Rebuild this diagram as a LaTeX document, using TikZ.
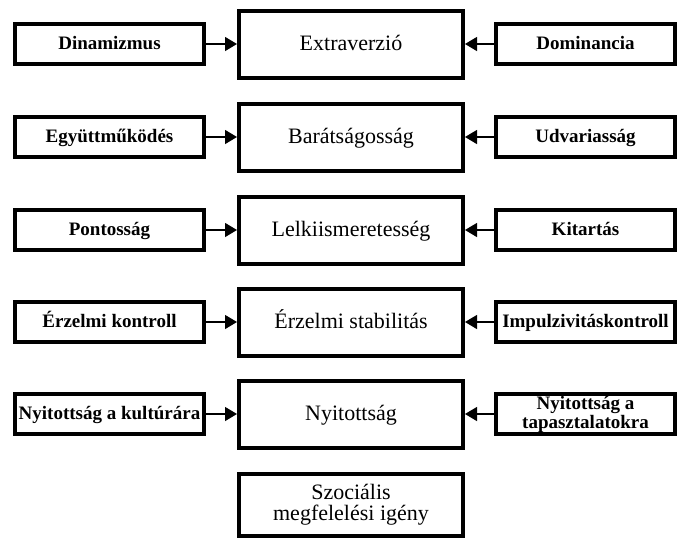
\documentclass[tikz,border=0pt]{standalone}
\usepackage{fontspec}
\setmainfont{Liberation Serif}
\usetikzlibrary{arrows.meta}
\tikzset{
	trait/.style = {draw, line width=4pt, minimum width=224pt, minimum height=67pt,
		inner sep=1pt, text height=17pt, text depth=5pt,
		font=\fontsize{22}{21}\selectfont},
	facet/.style = {draw, line width=3.6pt, minimum height=40pt,
		inner sep=1pt, text height=16pt, text depth=4.5pt,
		font=\fontsize{19}{19}\selectfont\bfseries},
	facetl/.style = {facet, minimum width=189pt},
	facetr/.style = {facet, minimum width=179pt},
	twoline/.style = {align=center, text height=, text depth=},
	link/.style = {line width=1.2pt, -{Triangle[length=12pt, width=14pt]}}
}

\begin{document}
\begin{tikzpicture}[x=1pt, y=-1pt]
	\useasboundingbox (0,0) rectangle (677,539);
	\foreach \y/\i/\lt/\ct in {44/1/Dinamizmus/Extraverzió,
		137/2/Együttműködés/Barátságosság,
		230/3/Pontosság/Lelkiismeretesség,
		322/4/Érzelmi kontroll/Érzelmi stabilitás,
		414/5/Nyitottság a kultúrára/Nyitottság}{
		\node[trait] (tr\i) at (351,\y) {\ct};
		\node[facetl] (fl\i) at (109.5,\y) {\lt};
		\draw[link] (fl\i) -- (tr\i);
		};
	\foreach \y/\i/\rt in {44/1/Dominancia, 137/2/Udvariasság, 230/3/Kitartás,
		322/4/Impulzivitáskontroll}{
		\node[facetr] (fr\i) at (585.5,\y) {\rt};
		\draw[link] (fr\i) -- (tr\i);
		};
	\node[facetr, twoline] (fr5) at (585.5,414) {Nyitottság a\\tapasztalatokra};
	\draw[link] (fr5) -- (tr5);
	\node[trait, twoline, minimum height=62pt] (tr6) at (351,505) {Szociális\\megfelelési igény};
\end{tikzpicture}
\end{document}
